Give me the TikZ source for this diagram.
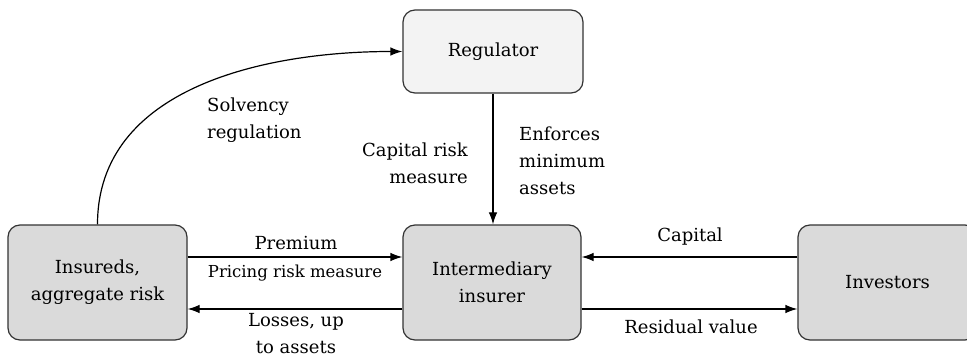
\documentclass[tikz,border=0pt]{standalone}
\usepackage{fontspec}
\setmainfont{DejaVu Serif}
\usetikzlibrary{arrows.meta}
\definecolor{boxfill}{HTML}{DADADA}
\definecolor{regfill}{HTML}{F3F3F3}
\definecolor{boxline}{HTML}{333333}
\tikzset{
  x=1pt, y=1pt,
  every node/.style={font=\fontsize{18}{27}\selectfont},
  entity/.style={draw=boxline, line width=1.2pt, rounded corners=12pt, fill=boxfill,
    minimum width=179pt, minimum height=115pt, align=center, inner sep=0pt},
  regbox/.style={entity, fill=regfill, minimum width=180pt, minimum height=83pt},
  arr/.style={-{Latex[length=12pt,width=8.5pt]}, line width=1.2pt, black},
  lbl/.style={inner sep=0pt},
  small/.style={font=\fontsize{16.5}{20}\selectfont}
}
\begin{document}
\begin{tikzpicture}
\useasboundingbox (0,0) rectangle (967,362);
\clip (0,0) rectangle (967,362);
\node[entity] (ins) at (97.5,79.5) {Insureds,\\aggregate risk};
\node[entity, minimum width=178pt] (inter) at (492,79.5) {Intermediary\\insurer};
\node[entity] (inv) at (887.5,79.5) {Investors};
\node[regbox] (reg) at (493,310.5) {Regulator};

\coordinate (up) at (0,105);
\coordinate (dn) at (0,53);
\draw[arr] (ins.east |- up) -- (inter.west |- up);
\draw[arr] (inter.west |- dn) -- (ins.east |- dn);
\draw[arr] (inv.west |- up) -- (inter.east |- up);
\draw[arr] (inter.east |- dn) -- (inv.west |- dn);
\draw[arr] (reg.south) -- (reg.south |- inter.north);
\draw[arr] (ins.north) to[out=90, in=180] (reg.west);

\node[lbl, align=left, anchor=west] (solv) at (207,242) {Solvency\\regulation};
\node[lbl, align=right, anchor=east] (crm) at (468,199) {Capital risk\\measure};
\node[lbl, align=left, anchor=west] (enf) at (519,201) {Enforces\\minimum\\assets};
\node[lbl] (prem) at (296,119) {Premium};
\node[lbl, small] (prm) at (295,89) {Pricing risk measure};
\node[lbl, align=center] (loss) at (296,28) {Losses, up\\to assets};
\node[lbl] (cap) at (690,125) {Capital};
\node[lbl] (res) at (691,35) {Residual value};
\end{tikzpicture}
\end{document}
